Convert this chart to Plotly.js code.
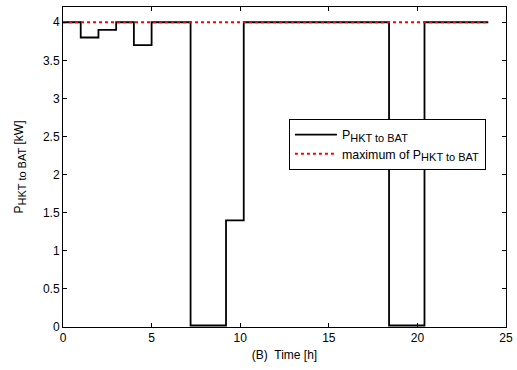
<!DOCTYPE html>
<html>
<head>
<meta charset="utf-8">
<script src="https://cdn.plot.ly/plotly-3.0.1.min.js"></script>
<style>html,body{margin:0;padding:0;background:#fff;}#chart{width:517px;height:370px;}</style>
</head>
<body>
<div id="chart"></div>
<script>
// Step series: power from HKT to battery (value holds from each time until the next)
var stepTimes = [0, 1, 2, 3, 4, 5, 7.2, 9.2, 10.2, 18.4, 20.4, 24];
var stepPower = [4, 3.8, 3.9, 4, 3.7, 4, 0.02, 1.4, 4, 0.02, 4, 4];
// Maximum power line
var maxTimes = [0, 24];
var maxPower = [4, 4];
var xTicks = [0, 5, 10, 15, 20, 25];
var yTicks = [0, 0.5, 1, 1.5, 2, 2.5, 3, 3.5, 4];

var font = {family: 'Liberation Sans, Arial, sans-serif', size: 12, color: '#000'};
var sub = function (s) { return '<sub><span style="font-size:11px">' + s + '</span></sub>'; };

var traces = [
  {x: stepTimes, y: stepPower, type: 'scatter', mode: 'lines',
   line: {shape: 'hv', color: '#000', width: 1.8},
   name: 'P' + sub('HKT to BAT')},
  {x: maxTimes, y: maxPower, type: 'scatter', mode: 'lines',
   line: {color: '#ff0000', width: 2, dash: 'dot'},
   name: 'maximum of P' + sub('HKT to BAT')}
];

var axisCommon = {
  showline: true, linecolor: '#000', linewidth: 1, mirror: 'ticks',
  ticks: 'inside', ticklen: 4, tickcolor: '#000', showgrid: false, zeroline: false,
  tickfont: font
};

var layout = {
  width: 517, height: 370,
  margin: {l: 63, r: 11, t: 7, b: 43},
  paper_bgcolor: '#fff', plot_bgcolor: '#fff',
  font: font,
  xaxis: Object.assign({}, axisCommon, {
    range: [0, 25], tickvals: xTicks, ticktext: xTicks.map(String),
    title: {text: '(B)  Time [h]', font: font, standoff: 6}
  }),
  yaxis: Object.assign({}, axisCommon, {
    range: [0, 4.2], tickvals: yTicks, ticktext: yTicks.map(String),
    title: {text: 'P' + sub('HKT to BAT') + ' [kW]', font: font, standoff: 16}
  }),
  showlegend: true,
  legend: {
    x: 0.51, y: 0.65, xanchor: 'left', yanchor: 'top',
    bgcolor: '#fff', bordercolor: '#000', borderwidth: 1,
    font: {family: font.family, size: 12.4, color: '#000'},
    tracegroupgap: 0, itemwidth: 42, entrywidth: 184, entrywidthmode: 'pixels'
  }
};

Plotly.newPlot('chart', traces, layout, {staticPlot: true, displayModeBar: false});
</script>
</body>
</html>
